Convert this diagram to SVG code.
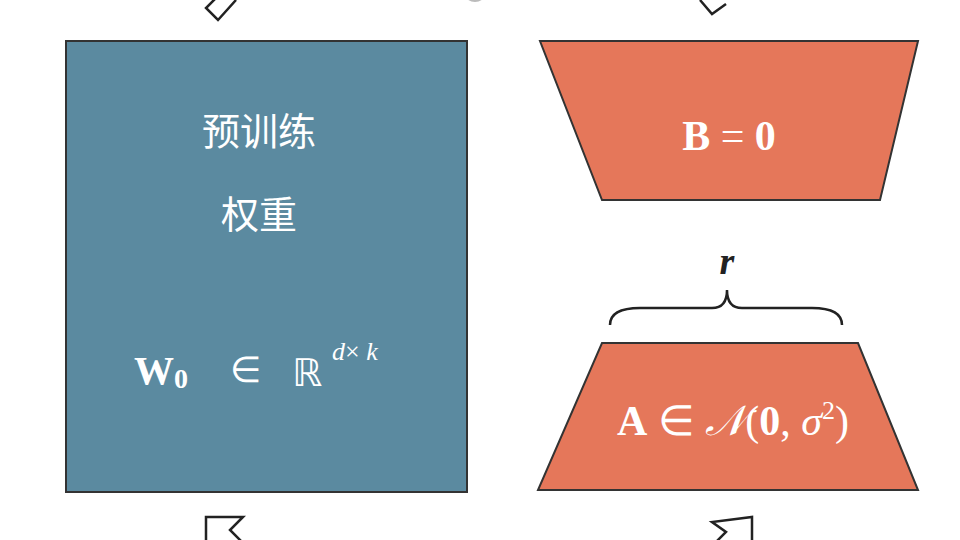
<svg xmlns="http://www.w3.org/2000/svg" width="960" height="540" viewBox="0 0 960 540">
<style>
.o{fill:none;stroke:#222;stroke-width:2.5;stroke-linejoin:miter}
.cn{font-family:"Noto Sans CJK SC",sans-serif;font-size:38px;fill:#fff;text-anchor:middle}
.m{font-family:"Liberation Serif",serif;fill:#fff}
.box{stroke:#333;stroke-width:2}
</style>
<rect width="960" height="540" fill="#fff"/>
<g id="connectors">
<path class="o" d="M222,-8 L206,8 L218,20 L236,0"/>
<path class="o" d="M700,0 L712,14 L726,4"/>
<path class="o" d="M206,545 L206,517 L243,517 L230,530 L243,543"/>
<path class="o" d="M752,545 L752,517 L712,522 L726,532 L716,542"/>
<circle cx="475" cy="-10" r="12" fill="#bbb"/>
</g>
<g id="w0">
<rect class="box" x="66" y="41" width="401" height="451" fill="#5b8aa0"/>
<text class="cn" x="259" y="145">预训练</text>
<text class="cn" x="259" y="228">权重</text>
<text class="m" x="134" y="384" font-size="40" font-weight="bold">W<tspan font-size="28" dy="4">0</tspan></text>
<text class="m" x="230" y="382" font-size="36">∈</text>
<text x="292" y="386" font-size="38" fill="#fff" font-family="DejaVu Sans,sans-serif">ℝ</text>
<text class="m" x="332" y="360" font-size="26" font-style="italic">d<tspan font-style="normal">×</tspan> k</text>
</g>
<g id="B">
<polygon class="box" points="540,41 918,41 880,200 602,200" fill="#e5775a"/>
<text class="m" x="729" y="150" font-size="42" font-weight="bold" text-anchor="middle">B <tspan font-weight="normal">=</tspan> 0</text>
</g>
<g id="r">
<path d="M610,325 Q610,308 640,308 L712,308 Q727,308 727,290 Q727,308 742,308 L812,308 Q842,308 842,325" fill="none" stroke="#222" stroke-width="2.5"/>
<text x="727" y="274" font-family="Liberation Serif,serif" font-size="38" font-style="italic" font-weight="bold" text-anchor="middle" fill="#222">r</text>
</g>
<g id="A">
<polygon class="box" points="602,343 858,343 918,490 538,490" fill="#e5775a"/>
<text class="m" x="733" y="435" font-size="42" text-anchor="middle"><tspan font-weight="bold">A</tspan> ∈ <tspan font-style="italic">𝒩</tspan>(<tspan font-weight="bold">0</tspan>, <tspan font-style="italic">σ</tspan><tspan font-size="26" dy="-16">2</tspan><tspan dy="16">)</tspan></text>
</g>
</svg>
